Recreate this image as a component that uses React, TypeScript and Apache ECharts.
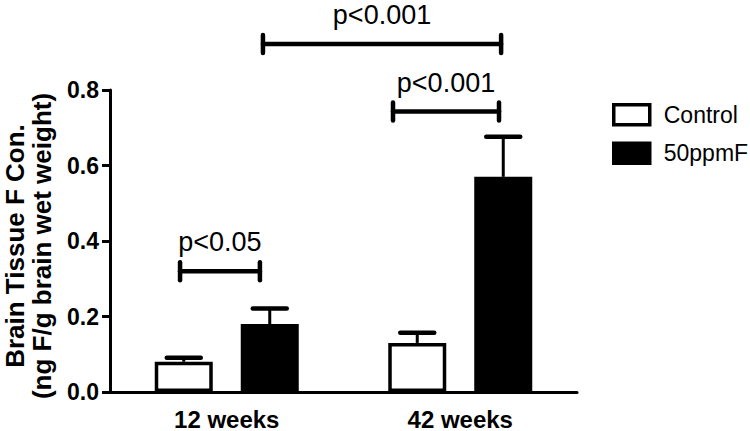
import React, { useEffect, useRef } from "react";
import * as echarts from "echarts";

const categories = ["12 weeks", "42 weeks"];
const seriesNames = ["Control", "50ppmF"];
const controlValues = [0.08, 0.13];
const controlErrors = [0.011, 0.027];
const fluorideValues = [0.18, 0.57];
const fluorideErrors = [0.041, 0.106];
const yMin = 0;
const yMax = 0.8;
const yInterval = 0.2;
// significance brackets on a 0..2 horizontal position scale (one unit per category)
const bracketStarts = [0.3, 1.212, 0.655];
const bracketEnds = [0.642, 1.666, 1.675];
const bracketHeights = [0.32, 0.743, 0.922];
const bracketLabels = ["p<0.05", "p<0.001", "p<0.001"];

const FONT = "'Liberation Sans', Arial, Helvetica, sans-serif";
const BAR_W = 58;
const BAR_GAP_PX = 28;
const OFFSET = (BAR_W + BAR_GAP_PX) / 2;

function errorSeries(values: number[], errors: number[], sign: number) {
  return {
    type: "custom",
    xAxisIndex: 0,
    yAxisIndex: 0,
    z: 5,
    silent: true,
    data: values.map((v, i) => [i, v, errors[i]]),
    renderItem: (params: any, api: any) => {
      const x = api.value(0);
      const v = api.value(1);
      const e = api.value(2);
      const base = api.coord([x, v]);
      const top = api.coord([x, v + e]);
      const cx = base[0] + sign * OFFSET;
      return {
        type: "group",
        children: [
          {
            type: "line",
            shape: { x1: cx, y1: base[1], x2: cx, y2: top[1] },
            style: { stroke: "#000", lineWidth: 3 },
          },
          {
            type: "line",
            shape: { x1: cx - 17, y1: top[1], x2: cx + 17, y2: top[1] },
            style: { stroke: "#000", lineWidth: 4.5, lineCap: "round" },
          },
        ],
      };
    },
  };
}

export default function App() {
  const ref = useRef<HTMLDivElement>(null);
  useEffect(() => {
    document.body.style.margin = "0";
    if (!ref.current) return;
    const chart = echarts.init(ref.current, undefined, { renderer: "svg" });
    chart.setOption({
      animation: false,
      backgroundColor: "#fff",
      grid: { left: 110, right: 173, top: 90, bottom: 34, containLabel: false },
      legend: {
        orient: "vertical",
        left: 607,
        top: 98,
        icon: "rect",
        itemWidth: 36,
        itemHeight: 20,
        itemGap: 15,
        data: seriesNames,
        selectedMode: false,
        itemStyle: { borderColor: "#000", borderWidth: 3.5 },
        textStyle: {
          fontFamily: FONT,
          fontSize: 23,
          color: "#000",
          lineHeight: 20,
          padding: [0, 0, 0, 9],
        },
      },
      xAxis: [
        {
          type: "category",
          data: categories,
          axisLine: { lineStyle: { color: "#000", width: 3 } },
          axisTick: { alignWithLabel: true, length: 8, lineStyle: { color: "#000", width: 3 } },
          axisLabel: { fontFamily: FONT, fontSize: 24, fontWeight: "bold", color: "#000", margin: 15 },
        },
        { type: "value", min: 0, max: 2, show: false },
      ],
      yAxis: {
        type: "value",
        min: yMin,
        max: yMax,
        interval: yInterval,
        axisLine: { show: true, lineStyle: { color: "#000", width: 3 } },
        axisTick: { show: true, length: 8, lineStyle: { color: "#000", width: 3 } },
        axisLabel: {
          fontFamily: FONT,
          fontSize: 23,
          fontWeight: "bold",
          color: "#000",
          margin: 11,
          formatter: (v: number) => v.toFixed(1),
        },
        splitLine: { show: false },
      },
      graphic: [
        {
          type: "text",
          x: 28,
          y: 246,
          rotation: Math.PI / 2,
          style: {
            text: "Brain Tissue F Con.\n(ng F/g brain wet weight)",
            fontFamily: FONT,
            fontSize: 26,
            fontWeight: "bold",
            lineHeight: 27,
            fill: "#000",
            align: "center",
            verticalAlign: "middle",
          },
        },
      ],
      series: [
        {
          name: seriesNames[0],
          type: "bar",
          data: controlValues,
          barWidth: BAR_W,
          barGap: (BAR_GAP_PX / BAR_W) * 100 + "%",
          itemStyle: { color: "#fff", borderColor: "#000", borderWidth: 3.5 },
        },
        {
          name: seriesNames[1],
          type: "bar",
          data: fluorideValues,
          barWidth: BAR_W,
          itemStyle: { color: "#000", borderColor: "#000", borderWidth: 3.5 },
        },
        errorSeries(controlValues, controlErrors, -1),
        errorSeries(fluorideValues, fluorideErrors, 1),
        {
          type: "custom",
          xAxisIndex: 1,
          yAxisIndex: 0,
          z: 6,
          silent: true,
          clip: false,
          data: bracketStarts.map((s, i) => [s, bracketEnds[i], bracketHeights[i]]),
          renderItem: (params: any, api: any) => {
            const a = api.coord([api.value(0), api.value(2)]);
            const b = api.coord([api.value(1), api.value(2)]);
            const y = a[1];
            const ls = { stroke: "#000", lineWidth: 4.5, lineCap: "round" };
            return {
              type: "group",
              children: [
                { type: "line", shape: { x1: a[0], y1: y, x2: b[0], y2: y }, style: ls },
                { type: "line", shape: { x1: a[0], y1: y - 9, x2: a[0], y2: y + 9 }, style: ls },
                { type: "line", shape: { x1: b[0], y1: y - 9, x2: b[0], y2: y + 9 }, style: ls },
                {
                  type: "text",
                  x: (a[0] + b[0]) / 2,
                  y: y - 29,
                  style: {
                    text: bracketLabels[params.dataIndex],
                    fontFamily: FONT,
                    fontSize: 27,
                    fill: "#000",
                    align: "center",
                    verticalAlign: "middle",
                  },
                },
              ],
            };
          },
        },
      ],
    });
    return () => chart.dispose();
  }, []);
  return <div ref={ref} style={{ width: 750, height: 431 }} />;
}
